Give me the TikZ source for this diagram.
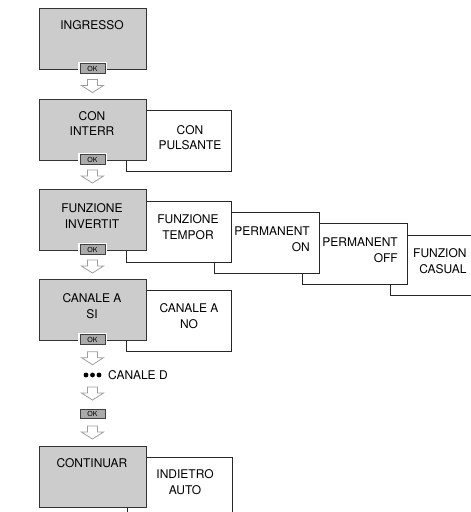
\documentclass[tikz,border=0pt]{standalone}
\usepackage{fontspec}
\setmainfont{TeX Gyre Heros}
\usetikzlibrary{calc}

% hollow block arrow half way between two nodes
\newcommand{\flowarrow}[2]{%
  \draw[hollow] ($(#1.south)!0.5!(#2.north)$) ++(-5,-6.5) -- ++(10,0) -- ++(0,6) -- ++(6,0)
    -- ++(-11,7) -- ++(-11,-7) -- ++(6,0) -- cycle;}

\begin{document}
\begin{tikzpicture}[
  x=1pt, y=-1pt,
  menu/.style={draw=black!80, line width=0.8pt, fill=gray!40, minimum width=107pt, minimum height=61pt, inner sep=0pt, anchor=north west},
  choice/.style={draw=black!85, line width=0.8pt, fill=white, minimum width=105pt, minimum height=60.5pt, inner sep=0pt, anchor=north west},
  lbl/.style={align=center, inner sep=0pt, font=\fontsize{12}{15.5}\selectfont},
  okbtn/.style={draw=black!75, line width=0.7pt, fill=gray!67, minimum width=25pt, minimum height=9.5pt, inner sep=0pt, font=\fontsize{7}{7}\selectfont, preaction={draw=white, line width=3.5pt}},
  hollow/.style={draw=black!38, line width=0.8pt, fill=white}
]
\useasboundingbox (0,0) rectangle (471,512);

% --- ingresso ---
\node[menu]  (ingresso) at (38.5,7.5) {};
\node[lbl]   (ingressoT) at (92,25) {INGRESSO};
\node[okbtn] (ok1) at (92.5,68.5) {OK};

% --- interruttore / pulsante ---
\node[choice] (pulsante) at (126,110) {};
\node[lbl]    (pulsanteT) at (190,137.5) {CON\\PULSANTE};
\node[menu]   (interr) at (38.5,98.5) {};
\node[lbl]    (interrT) at (92,123.3) {CON\\INTERR};
\node[okbtn]  (ok2) at (92.5,159.5) {OK};
\flowarrow{ok1}{interr}

% --- funzioni (cascade, back to front) ---
\node[choice] (casual) at (390,234.5) {};
\node[lbl, align=right, anchor=west] (casualT) at (413,261) {FUNZION\\CASUAL};
\node[choice] (off) at (302,223.3) {};
\node[lbl, align=right, anchor=east] (offT) at (398,250) {PERMANENT\\OFF};
\node[choice] (on) at (214,212) {};
\node[lbl, align=right, anchor=east] (onT) at (310,239) {PERMANENT\\ON};
\node[choice] (tempor) at (126,201) {};
\node[lbl]    (temporT) at (188,227) {FUNZIONE\\TEMPOR};
\node[menu]   (invertit) at (38.5,188.5) {};
\node[lbl]    (invertitT) at (92,216) {FUNZIONE\\INVERTIT};
\node[okbtn]  (ok3) at (92.5,249.5) {OK};
\flowarrow{ok2}{invertit}

% --- canali ---
\node[choice] (canaleno) at (126,290) {};
\node[lbl]    (canalenoT) at (189,316) {CANALE A\\NO};
\node[menu]   (canalesi) at (38.5,278.5) {};
\node[lbl]    (canalesiT) at (92,306.3) {CANALE A\\SI};
\node[okbtn]  (ok4) at (92.5,339.5) {OK};
\flowarrow{ok3}{canalesi}

\node[minimum width=21pt, minimum height=6pt, inner sep=0pt] (dots) at (92.5,375) {};
\foreach \dx in {-6.5,0,6.5}
  \fill (dots.center) ++(\dx,0) circle (2.4pt);
\node[lbl, anchor=west] (canaled) at (108,375) {CANALE D};
\node[okbtn] (ok5) at (92.5,414) {OK};
\flowarrow{ok4}{dots}
\flowarrow{dots}{ok5}

% --- continuar ---
\node[choice] (indietro) at (126.5,457.3) {};
\node[lbl]    (indietroT) at (185,482) {INDIETRO\\AUTO};
\node[menu]   (continuar) at (38.5,446) {};
\node[lbl]    (continuarT) at (92,463) {CONTINUAR};
\flowarrow{ok5}{continuar}
\end{tikzpicture}
\end{document}
